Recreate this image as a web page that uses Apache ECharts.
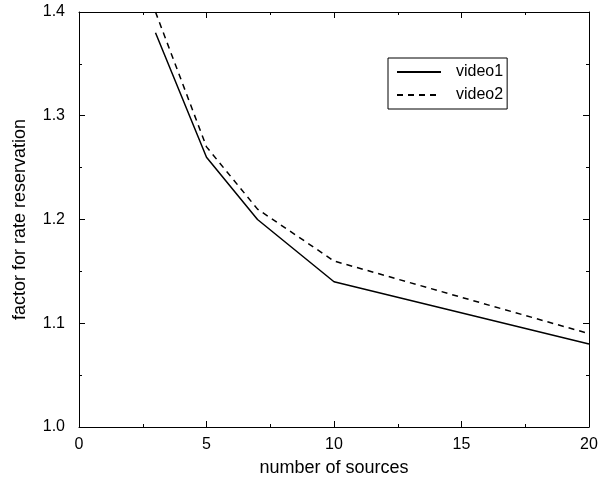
<!DOCTYPE html>
<html><head><meta charset="utf-8">
<script src="https://cdn.jsdelivr.net/npm/echarts@6/dist/echarts.min.js"></script>
<style>html,body{margin:0;padding:0;background:#fff}#c{width:600px;height:479px}</style>
</head><body><div id="c"></div>
<script>
var sources = [3, 5, 7, 10, 20];
var video1 = [1.38, 1.26, 1.20, 1.14, 1.08];
var video2 = [1.40, 1.27, 1.21, 1.16, 1.09];
var seriesNames = ['video1', 'video2'];
var xTitle = 'number of sources';
var yTitle = 'factor for rate reservation';

var font = 'Liberation Sans, Arial, sans-serif';
function pairs(xs, ys){ return xs.map(function(x,i){ return [x, ys[i]]; }); }
var axisCommon = {
  axisLine: {show: true, onZero: false, lineStyle: {color: '#000', width: 1}},
  axisTick: {show: true, inside: true, length: 6, lineStyle: {color: '#000'}},
  minorTick: {show: true, splitNumber: 2, length: 3, lineStyle: {color: '#000'}},
  splitLine: {show: false}
};
var chart = echarts.init(document.getElementById('c'), null, {renderer: 'canvas'});
chart.setOption({
  animation: false,
  backgroundColor: '#fff',
  textStyle: {fontFamily: font},
  grid: {left: 79, right: 11, top: 12, bottom: 52, containLabel: false, outerBoundsMode: 'none'},
  legend: {
    show: true,
    orient: 'vertical', left: 388, top: 58,
    data: seriesNames,
    borderColor: '#000', borderWidth: 1, borderRadius: 0,
    padding: [6, 4, 6, 8], itemGap: 7,
    itemWidth: 44, itemHeight: 14,
    itemStyle: {opacity: 0},
    textStyle: {fontSize: 16, color: '#000', fontFamily: font, padding: [0, 0, 0, 10]}
  },
  xAxis: [
    Object.assign({type: 'value', min: 0, max: 20, interval: 5, position: 'bottom',
      name: xTitle, nameLocation: 'middle', nameGap: 32,
      nameTextStyle: {fontSize: 18, color: '#000', fontFamily: font},
      axisLabel: {fontSize: 16, color: '#000', margin: 10, fontFamily: font}}, axisCommon),
    Object.assign({type: 'value', min: 0, max: 20, interval: 5, position: 'top',
      axisLabel: {show: false}}, axisCommon)
  ],
  yAxis: [
    Object.assign({type: 'value', min: 1.0, max: 1.4, interval: 0.1, position: 'left',
      name: yTitle, nameLocation: 'middle', nameGap: 50,
      nameTextStyle: {fontSize: 18, color: '#000', fontFamily: font},
      axisLabel: {fontSize: 16, color: '#000', margin: 14, fontFamily: font,
        formatter: function(v){ return v.toFixed(1); }}}, axisCommon),
    Object.assign({type: 'value', min: 1.0, max: 1.4, interval: 0.1, position: 'right',
      axisLabel: {show: false}}, axisCommon)
  ],
  series: [
    {name: seriesNames[0], type: 'line', data: pairs(sources, video1), symbol: 'none',
     lineStyle: {color: '#000', width: 1.5, type: 'solid'}, itemStyle: {color: '#000'}, clip: true},
    {name: seriesNames[1], type: 'line', data: pairs(sources, video2), symbol: 'none',
     lineStyle: {color: '#000', width: 1.5, type: [6, 5]}, itemStyle: {color: '#000'}, clip: true}
  ]
});
</script></body></html>
